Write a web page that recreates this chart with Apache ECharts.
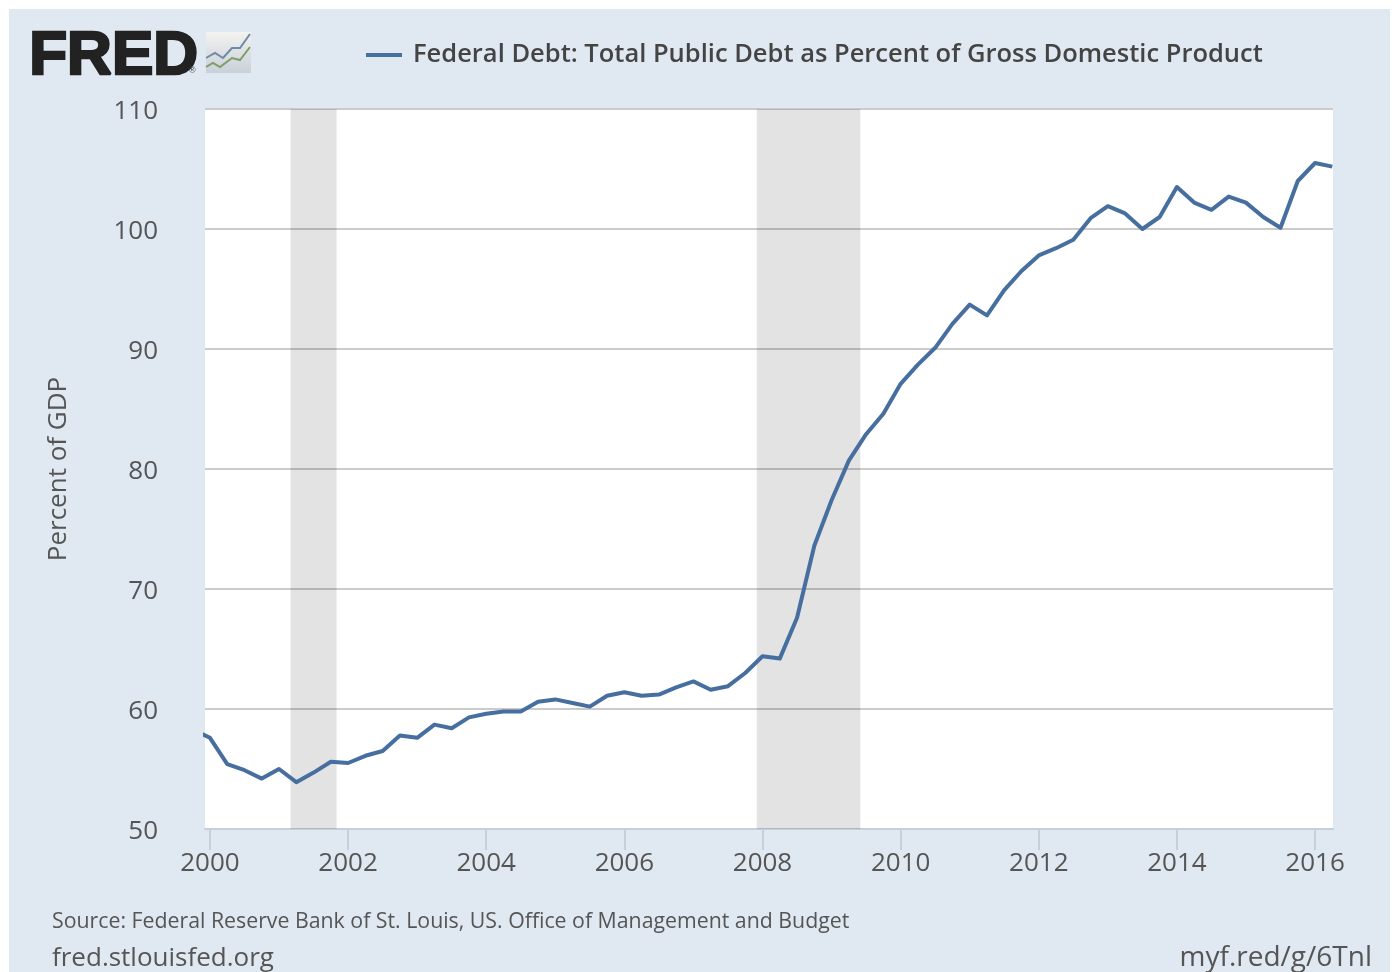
<!DOCTYPE html>
<html><head><meta charset="utf-8">
<style>html,body{margin:0;padding:0;background:#fff;overflow:hidden}
#panel{position:absolute;left:9px;top:9px;width:1381px;height:963px;background:#e0e8f1}
#chart{position:absolute;left:0;top:0;width:1396px;height:972px}</style>
<script src="https://cdn.jsdelivr.net/npm/echarts@6/dist/echarts.min.js"></script>
</head><body><div id="panel"></div><div id="chart"></div>
<script>
const seriesName='Federal Debt: Total Public Debt as Percent of Gross Domestic Product';
const quarters=['1999-10-01','2000-01-01','2000-04-01','2000-07-01','2000-10-01','2001-01-01','2001-04-01','2001-07-01','2001-10-01','2002-01-01','2002-04-01','2002-07-01','2002-10-01','2003-01-01','2003-04-01','2003-07-01','2003-10-01','2004-01-01','2004-04-01','2004-07-01','2004-10-01','2005-01-01','2005-04-01','2005-07-01','2005-10-01','2006-01-01','2006-04-01','2006-07-01','2006-10-01','2007-01-01','2007-04-01','2007-07-01','2007-10-01','2008-01-01','2008-04-01','2008-07-01','2008-10-01','2009-01-01','2009-04-01','2009-07-01','2009-10-01','2010-01-01','2010-04-01','2010-07-01','2010-10-01','2011-01-01','2011-04-01','2011-07-01','2011-10-01','2012-01-01','2012-04-01','2012-07-01','2012-10-01','2013-01-01','2013-04-01','2013-07-01','2013-10-01','2014-01-01','2014-04-01','2014-07-01','2014-10-01','2015-01-01','2015-04-01','2015-07-01','2015-10-01','2016-01-01','2016-04-01'];
const debt=[58.3,57.6,55.4,54.9,54.2,55.0,53.9,54.7,55.6,55.5,56.1,56.5,57.8,57.6,58.7,58.4,59.3,59.6,59.8,59.8,60.6,60.8,60.5,60.2,61.1,61.4,61.1,61.2,61.8,62.3,61.6,61.9,63.0,64.4,64.2,67.6,73.6,77.4,80.7,82.9,84.6,87.1,88.7,90.1,92.1,93.7,92.8,94.9,96.5,97.8,98.4,99.1,100.9,101.9,101.3,100.0,101.0,103.5,102.2,101.6,102.7,102.2,101.0,100.1,104.0,105.5,105.2];
const yearTicks=[2000,2002,2004,2006,2008,2010,2012,2014,2016];
const recessions=[['2001-03-01','2001-11-01'],['2007-12-01','2009-06-01']];
const xMin=1999.928,xMax=2016.26;
const yMin=50,yMax=110,yStep=10;
const yr=s=>{const p=s.split('-');return +p[0]+(+p[1]-1)/12;};
const font='"Open Sans"';
const chart=echarts.init(document.getElementById('chart'),null,{renderer:'canvas'});
chart.setOption({
  animation:false,
  backgroundColor:'transparent',
  textStyle:{fontFamily:font},
  grid:{left:205,right:63,top:109,height:720,containLabel:false},
  legend:{show:true,top:37,left:361,itemWidth:36,itemHeight:4,itemGap:9,
    icon:'rect',
    data:[{name:seriesName}],
    textStyle:{fontFamily:font,fontSize:25.5,fontWeight:600,color:'#444',padding:[0,0,0,6]}},
  xAxis:{type:'value',min:xMin,max:xMax,
    axisLine:{show:true,onZero:false,lineStyle:{color:'#c5d0dd',width:2}},
    axisTick:{show:true,length:21,lineStyle:{color:'#c5d0dd',width:2},customValues:yearTicks},
    axisLabel:{fontFamily:font,fontSize:26,color:'#555',margin:22,
      customValues:yearTicks,
      formatter:v=>String(v),hideOverlap:false,showMinLabel:true,showMaxLabel:true},
    splitLine:{show:false}},
  yAxis:{type:'value',min:yMin,max:yMax,interval:yStep,
    name:'Percent of GDP',nameLocation:'middle',nameGap:133,nameRotate:90,
    nameTextStyle:{fontFamily:font,fontSize:26,color:'#555'},
    axisLine:{show:false},axisTick:{show:false},
    axisLabel:{fontFamily:font,fontSize:26,color:'#555',margin:47,verticalAlign:'top',lineHeight:6},
    splitLine:{show:true,lineStyle:{color:'#cbcbcb',width:2}}},
  series:[{
    name:seriesName,type:'line',showSymbol:false,symbol:'none',smooth:false,clip:true,z:5,
    data:quarters.map((q,i)=>[yr(q),debt[i]]),
    lineStyle:{color:'#466f9f',width:4,join:'round'},
    itemStyle:{color:'#466f9f'},
    markArea:{silent:true,itemStyle:{color:'rgba(0,0,0,0.11)'},
      data:recessions.map(r=>[{xAxis:yr(r[0])},{xAxis:yr(r[1])}])}
  }],
  graphic:[
    {type:'rect',z:-10,silent:true,shape:{x:205,y:109,width:1128,height:720},style:{fill:'#fff'}},
    {type:'text',left:28,top:25,silent:true,style:{text:'FRED',fontFamily:'"Liberation Sans"',fontWeight:900,fontSize:62,fill:'#222',stroke:'#222',lineWidth:2.5}},
    {type:'text',left:189,top:66,silent:true,style:{text:'®',fontFamily:'"Liberation Sans"',fontSize:9,fill:'#444'}},
    {type:'rect',silent:true,shape:{x:206,y:32,width:45,height:41},style:{fill:new echarts.graphic.LinearGradient(0,0,0,1,[{offset:0,color:'#f3f3f0'},{offset:1,color:'#c9d0d8'}])}},
    {type:'polyline',silent:true,shape:{points:[[206,58],[215,53],[223,58],[232,48],[240,48],[250,34]]},style:{stroke:'#6d8aa8',lineWidth:2,fill:null}},
    {type:'polyline',silent:true,shape:{points:[[206,67],[213,63],[220,67],[232,58],[240,60],[250,47]]},style:{stroke:'#7f9c6b',lineWidth:2,fill:null}},
    {type:'text',left:52,top:911,silent:true,style:{text:'Source: Federal Reserve Bank of St. Louis, US. Office of Management and Budget',fontFamily:font,fontSize:21.3,fill:'#555'}},
    {type:'text',left:52,top:946,silent:true,style:{text:'fred.stlouisfed.org',fontFamily:font,fontSize:26,fill:'#555'}},
    {type:'text',right:24,top:944,silent:true,style:{text:'myf.red/g/6Tnl',fontFamily:font,fontSize:28,fill:'#555'}}
  ]
});
</script></body></html>
